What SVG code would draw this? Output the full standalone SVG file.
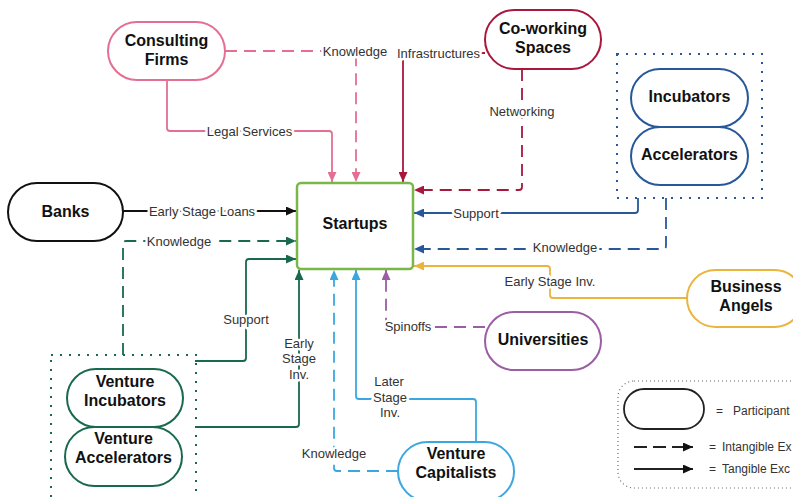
<svg xmlns="http://www.w3.org/2000/svg" width="793" height="497" viewBox="0 0 793 497">
<style>
.node{fill:#fff;stroke-width:2}
.nt{font-family:"Liberation Sans",Arial,sans-serif;font-weight:bold;font-size:16px;fill:#111;text-anchor:middle}
.lb{font-family:"Liberation Sans",Arial,sans-serif;font-size:13px;fill:#333;text-anchor:middle;stroke:#fff;stroke-width:5px;paint-order:stroke;stroke-linejoin:round}
.lg{font-family:"Liberation Sans",Arial,sans-serif;font-size:12px;fill:#333}
.c{fill:none;stroke-width:1.8}
.d{stroke-dasharray:12 7}
.dot{fill:none;stroke-width:2;stroke-dasharray:2 7}
</style>
<defs>
<marker id="aP" markerUnits="userSpaceOnUse" markerWidth="10" markerHeight="9" refX="10" refY="4.5" orient="auto"><path d="M0,0L10,4.5L0,9z" fill="#E46F93"/></marker>
<marker id="aR" markerUnits="userSpaceOnUse" markerWidth="10" markerHeight="9" refX="10" refY="4.5" orient="auto"><path d="M0,0L10,4.5L0,9z" fill="#A8183C"/></marker>
<marker id="aB" markerUnits="userSpaceOnUse" markerWidth="10" markerHeight="9" refX="10" refY="4.5" orient="auto"><path d="M0,0L10,4.5L0,9z" fill="#27599A"/></marker>
<marker id="aY" markerUnits="userSpaceOnUse" markerWidth="10" markerHeight="9" refX="10" refY="4.5" orient="auto"><path d="M0,0L10,4.5L0,9z" fill="#EBB43D"/></marker>
<marker id="aK" markerUnits="userSpaceOnUse" markerWidth="10" markerHeight="9" refX="10" refY="4.5" orient="auto"><path d="M0,0L10,4.5L0,9z" fill="#111"/></marker>
<marker id="aG" markerUnits="userSpaceOnUse" markerWidth="10" markerHeight="9" refX="10" refY="4.5" orient="auto"><path d="M0,0L10,4.5L0,9z" fill="#19694E"/></marker>
<marker id="aL" markerUnits="userSpaceOnUse" markerWidth="10" markerHeight="9" refX="10" refY="4.5" orient="auto"><path d="M0,0L10,4.5L0,9z" fill="#3BA7E0"/></marker>
<marker id="aV" markerUnits="userSpaceOnUse" markerWidth="10" markerHeight="9" refX="10" refY="4.5" orient="auto"><path d="M0,0L10,4.5L0,9z" fill="#9B5DA3"/></marker>
</defs>
<rect width="793" height="497" fill="#fff"/>

<g id="groups">
<rect x="617" y="54" width="145" height="144" class="dot" stroke="#27599A"/>
<rect x="51" y="355" width="145" height="160" class="dot" stroke="#19694E"/>
</g>

<g id="connectors">
<path class="c d" stroke="#E46F93" marker-end="url(#aP)" d="M225,51H353Q356,51 356,54V182"/>
<path class="c" stroke="#E46F93" marker-end="url(#aP)" d="M167,81V128Q167,131 170,131H329Q332,131 332,134V182"/>
<path class="c" stroke="#A8183C" marker-end="url(#aR)" d="M485,53H406Q403,53 403,56V182"/>
<path class="c d" stroke="#A8183C" marker-end="url(#aR)" d="M522,69V187Q522,190 519,190H414"/>
<path class="c" stroke="#27599A" marker-end="url(#aB)" d="M638,198V210Q638,213 635,213H414"/>
<path class="c d" stroke="#27599A" marker-end="url(#aB)" d="M666,198V246Q666,249 663,249H414"/>
<path class="c" stroke="#EBB43D" marker-end="url(#aY)" d="M687,298H553Q550,298 550,295V269Q550,266 547,266H414"/>
<path class="c" stroke="#111" marker-end="url(#aK)" d="M123,211H296"/>
<path class="c d" stroke="#19694E" marker-end="url(#aG)" d="M123,355V244Q123,241 126,241H296"/>
<path class="c" stroke="#19694E" marker-end="url(#aG)" d="M195,361H243Q246,361 246,358V262Q246,259 249,259H296"/>
<path class="c" stroke="#19694E" marker-end="url(#aG)" d="M195,427H296Q299,427 299,424V270"/>
<path class="c d" stroke="#3BA7E0" marker-end="url(#aL)" d="M398,471H337Q334,471 334,468V270"/>
<path class="c" stroke="#3BA7E0" marker-end="url(#aL)" d="M476,442V402Q476,399 473,399H359Q356,399 356,396V270"/>
<path class="c d" stroke="#9B5DA3" marker-end="url(#aV)" d="M485,327H389Q386,327 386,324V270"/>

<text class="lb" x="355" y="55.5">Knowledge</text>
<text class="lb" x="249.5" y="135.5">Legal Services</text>
<text class="lb" x="438.5" y="57.5">Infrastructures</text>
<text class="lb" x="522" y="115.5">Networking</text>
<text class="lb" x="476" y="217.5">Support</text>
<text class="lb" x="565" y="251.5">Knowledge</text>
<text class="lb" x="550" y="285.5">Early Stage Inv.</text>
<text class="lb" x="202" y="215.5">Early Stage Loans</text>
<text class="lb" x="179" y="245.5">Knowledge</text>
<text class="lb" x="246" y="323.5">Support</text>
<text class="lb" x="299" y="347.5">Early</text>
<text class="lb" x="299" y="363">Stage</text>
<text class="lb" x="299" y="378.5">Inv.</text>
<text class="lb" x="334" y="457.5">Knowledge</text>
<text class="lb" x="389" y="386">Later</text>
<text class="lb" x="390" y="401.5">Stage</text>
<text class="lb" x="390" y="417">Inv.</text>
<text class="lb" x="408" y="330.5">Spinoffs</text>
</g>

<g id="startups">
<rect x="297" y="183" width="116" height="86" rx="4" fill="#fff" stroke="#7AB648" stroke-width="2.5"/>
<text class="nt" x="355" y="229">Startups</text>
</g>
<g id="consulting-firms">
<rect class="node" x="108" y="22" width="117" height="58" rx="29" stroke="#E46F93"/>
<text class="nt" x="166.5" y="46">Consulting</text>
<text class="nt" x="166.5" y="64.5">Firms</text>
</g>
<g id="coworking-spaces">
<rect class="node" x="485" y="10" width="116" height="59" rx="29.5" stroke="#A8183C"/>
<text class="nt" x="543" y="34">Co-working</text>
<text class="nt" x="543" y="53">Spaces</text>
</g>
<g id="incubators">
<rect class="node" x="631" y="69" width="117" height="58" rx="29" stroke="#27599A"/>
<text class="nt" x="689.5" y="102">Incubators</text>
</g>
<g id="accelerators">
<rect class="node" x="631" y="127" width="117" height="58" rx="29" stroke="#27599A"/>
<text class="nt" x="689.5" y="160">Accelerators</text>
</g>
<g id="banks">
<rect class="node" x="8" y="183" width="115" height="58" rx="29" stroke="#111"/>
<text class="nt" x="65.5" y="217">Banks</text>
</g>
<g id="business-angels">
<rect class="node" x="687" y="270" width="116" height="57" rx="28.5" stroke="#EBB43D"/>
<text class="nt" x="746" y="292">Business</text>
<text class="nt" x="746" y="311">Angels</text>
</g>
<g id="universities">
<rect class="node" x="485" y="312" width="116" height="58" rx="29" stroke="#9B5DA3"/>
<text class="nt" x="543" y="345">Universities</text>
</g>
<g id="venture-incubators">
<rect class="node" x="67" y="369" width="116" height="58" rx="29" stroke="#19694E"/>
<text class="nt" x="125" y="387">Venture</text>
<text class="nt" x="125" y="406">Incubators</text>
</g>
<g id="venture-accelerators">
<rect class="node" x="65" y="427" width="117" height="59" rx="29.5" stroke="#19694E"/>
<text class="nt" x="123.5" y="444">Venture</text>
<text class="nt" x="123.5" y="463">Accelerators</text>
</g>
<g id="venture-capitalists">
<rect class="node" x="398" y="442" width="116" height="59" rx="29.5" stroke="#3BA7E0"/>
<text class="nt" x="456" y="459">Venture</text>
<text class="nt" x="456" y="478">Capitalists</text>
</g>

<g id="legend">
<rect x="618" y="381" width="200" height="107" rx="16" fill="none" stroke="#666" stroke-width="1.2" stroke-dasharray="1 3"/>
<rect x="624" y="389" width="80" height="40" rx="20" fill="#fff" stroke="#222" stroke-width="1.8"/>
<text class="lg" x="716" y="415">=</text>
<text class="lg" x="733" y="415">Participant</text>
<path d="M634,447H693" fill="none" stroke="#222" stroke-width="1.8" stroke-dasharray="13 6" marker-end="url(#aK)"/>
<path d="M634,469H693" fill="none" stroke="#222" stroke-width="1.8" marker-end="url(#aK)"/>
<text class="lg" x="709" y="451">=</text>
<text class="lg" x="722" y="451">Intangible Ex</text>
<text class="lg" x="709" y="473">=</text>
<text class="lg" x="722" y="473">Tangible Exc</text>
</g>
</svg>
